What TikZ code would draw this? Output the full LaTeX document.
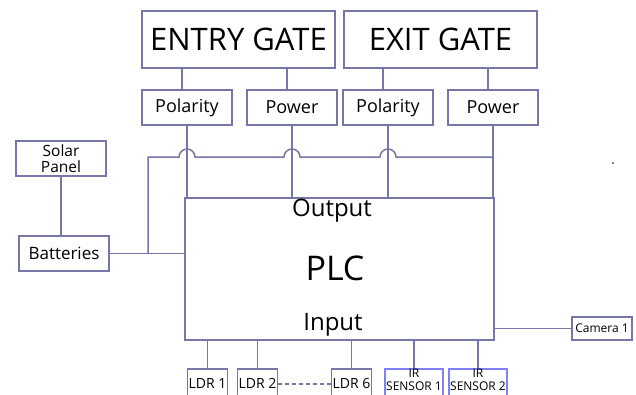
\documentclass[tikz,border=0pt]{standalone}
\usepackage{fontspec}
\setmainfont{Open Sans}
\usetikzlibrary{positioning,calc}
\definecolor{wire}{RGB}{118,118,168}
\definecolor{irblue}{RGB}{128,128,250}

\begin{document}
\begin{tikzpicture}[
      x=1pt, y=-1pt,
      box/.style={draw=wire,line width=1.5pt,fill=white,inner sep=1pt,align=center},
      gate/.style={box,minimum width=193pt,minimum height=57pt,font=\fontsize{31}{34}\selectfont},
      sub/.style={box,minimum width=90pt,minimum height=35pt,font=\fontsize{18}{20}\selectfont},
      side/.style={box,minimum width=90pt,minimum height=35pt,font=\fontsize{15}{17}\selectfont},
      sensor/.style={box,anchor=north,minimum height=30pt,font=\fontsize{14}{15}\selectfont},
      irbox/.style={box,anchor=north,draw=irblue,minimum width=58pt,minimum height=34pt},
      irtext/.style={anchor=north,inner sep=1pt,align=center,font=\fontsize{12}{12.5}\selectfont},
      wire/.style={draw=wire,line width=1.5pt},
    ]
    \useasboundingbox (0,0) rectangle (636,394);
    \clip (0,0) rectangle (636,394);
    \fill[white] (0,0) rectangle (636,394);

    % gates and their outputs
    \node[gate] (entry) at (238.5,39.5) {ENTRY GATE};
    \node[gate] (exit)  at (440.5,39.5) {EXIT GATE};
    \node[sub] (p1) at (187,107.5) {Polarity};
    \node[sub] (w1) at (292,107.5) {Power};
    \node[sub] (p2) at (388,107.5) {Polarity};
    \node[sub] (w2) at (493,107.5) {Power};

    % controller
    \node[box,minimum width=309pt,minimum height=142pt] (plc) at (339.5,269) {};
    \node[font=\fontsize{24}{26}\selectfont] (out) at (332,211) {Output};
    \node[font=\fontsize{34}{36}\selectfont] (name) at (335,268) {PLC};
    \node[font=\fontsize{24}{26}\selectfont] (in) at (333,325) {Input};

    % supply side
    \node[side,font=\fontsize{15.5}{17}\selectfont] (solar) at (61,158.5) {Solar\\[-1pt]Panel};
    \node[side,font=\fontsize{17}{18}\selectfont] (bat) at (64,253.5) {Batteries};
    \node[box,minimum width=60pt,minimum height=23pt,font=\fontsize{12}{13}\selectfont] (cam) at (602,328.5) {Camera 1};

    % sensors
    \node[sensor,minimum width=39pt] (l1) at (207.5,368) {LDR 1};
    \node[sensor,minimum width=39pt] (l2) at (257.5,368) {LDR 2};
    \node[sensor,minimum width=39pt] (l6) at (351.5,368) {LDR 6};
    \node[irbox] (ir1) at (414,368) {};
    \node[irbox] (ir2) at (478,368) {};
    \node[irtext] (ir1t) at (ir1.north) {IR\\SENSOR 1};
    \node[irtext] (ir2t) at (ir2.north) {IR\\SENSOR 2};

    \foreach \s/\g in {p1/entry,w1/entry,p2/exit,w2/exit} {
      \draw[wire] ([xshift=-5pt]\s.north) -- ([xshift=-5pt]\s.north |- \g.south);
      \draw[wire] (\s.south) -- (\s.south |- plc.north);
    }
    \foreach \s in {l1,l2,l6,ir1,ir2} {
      \draw[wire] (\s.north) -- (\s.north |- plc.south);
    }
    \draw[wire,dash pattern=on 4pt off 3pt] (l2.east) -- (l6.west);

    \draw[wire] (solar.south) -- (solar.south |- bat.north);
    \draw[wire] (bat.east) -- (bat.east -| plc.west);
    \coordinate (hl) at (148,157);
    \coordinate (j) at (hl |- bat.east);
    \draw[wire] (j) -- (hl)
      -- ([xshift=-8pt]p1.south |- hl) arc[start angle=180,end angle=0,radius=8pt]
      -- ([xshift=-8pt]w1.south |- hl) arc[start angle=180,end angle=0,radius=8pt]
      -- ([xshift=-8pt]p2.south |- hl) arc[start angle=180,end angle=0,radius=8pt]
      -- (w2.south |- hl);
    \draw[wire] (plc.east |- cam.west) -- (cam.west);

    \fill (613,163) circle[radius=0.8pt];
  \end{tikzpicture}
\end{document}
